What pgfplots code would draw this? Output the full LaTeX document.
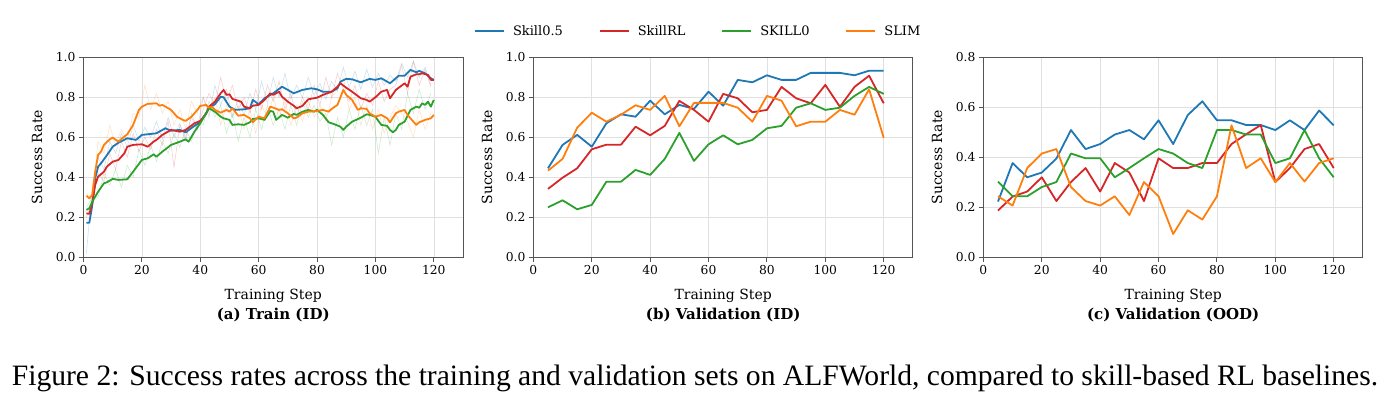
\documentclass[border=0pt]{standalone}
\usepackage{fontspec}
\setmainfont{DejaVu Serif}
\newfontfamily\capfont{Liberation Serif}
\usepackage{pgfplots}
\pgfplotsset{compat=1.18}

\definecolor{tabblue}{HTML}{1F77B4}
\definecolor{tabred}{HTML}{D62728}
\definecolor{tabgreen}{HTML}{2CA02C}
\definecolor{taborange}{HTML}{FF7F0E}
\definecolor{spine}{HTML}{555555}

\tikzset{subtitle/.style={font=\bfseries\fontsize{15}{17}\selectfont}}

\pgfplotsset{
  panel/.style={
    width=379.5pt, height=200pt, scale only axis,
    anchor=south west,
    clip mode=individual,
    xmin=0, xmax=130, ymin=0,
    xtick={0,20,...,120},
    grid=major,
    grid style={color=black!12, line width=0.6pt},
    axis line style={color=spine, line width=1pt},
    tick style={color=spine, line width=1pt},
    tick align=outside, tick pos=left,
    major tick length=4.5pt,
    /pgf/number format/assume math mode=true,
    tick label style={font=\fontsize{12.3}{14}\selectfont},
    yticklabel style={/pgf/number format/fixed,
      /pgf/number format/fixed zerofill,
      /pgf/number format/precision=1},
    label style={font=\fontsize{14}{16}\selectfont},
    xlabel={Training Step},
    ylabel={Success Rate},
    xlabel style={at={(axis description cs:0.5,-0.195)}, anchor=center},
    ylabel style={at={(axis description cs:-0.1225,0.5)}, anchor=center},
    legend image code/.code={\draw[#1] (0pt,0pt) -- (29pt,0pt);},
  },
  smooth line/.style={line width=1.8pt, line join=round},
  raw line/.style={line width=0.6pt, opacity=0.22, forget plot},
}

\begin{document}
\begin{tikzpicture}
\useasboundingbox (0pt,0pt) rectangle (1392pt,414pt);

% ---------------- (a) Train (ID) ----------------
\begin{axis}[panel, at={(83.5pt,156.7pt)}, ymax=1.0,
  ytick={0,0.2,...,1.0},
  legend columns=4,
  legend style={draw=none, fill=none, at={(axis description cs:1.62,1.13)},
    anchor=center, font=\fontsize{13}{15}\selectfont,
    /tikz/every odd column/.append style={column sep=6pt},
    /tikz/every even column/.append style={column sep=34pt}},
]
% raw (unsmoothed) curves
\addplot[raw line, tabblue] coordinates {
(1,0.02)(3,0.35)(5,0.50)(7,0.44)(9,0.58)(11,0.52)(13,0.62)(15,0.55)(17,0.66)(19,0.58)
(21,0.65)(23,0.60)(25,0.68)(27,0.59)(29,0.70)(31,0.60)(33,0.67)(35,0.58)(37,0.72)(39,0.64)
(41,0.80)(43,0.70)(45,0.86)(47,0.76)(49,0.84)(51,0.70)(53,0.79)(55,0.71)(57,0.82)(59,0.74)
(61,0.88)(63,0.77)(65,0.90)(67,0.80)(69,0.92)(71,0.79)(73,0.86)(75,0.80)(77,0.90)(79,0.81)
(81,0.87)(83,0.79)(85,0.88)(87,0.83)(89,0.95)(91,0.85)(93,0.93)(95,0.84)(97,0.94)(99,0.85)
(101,0.92)(103,0.86)(105,0.91)(107,0.88)(109,0.97)(111,0.90)(113,0.98)(115,0.90)(117,0.95)(119,0.86)};
\addplot[raw line, tabred] coordinates {
(1,0.20)(3,0.28)(5,0.42)(7,0.38)(9,0.52)(11,0.44)(13,0.58)(15,0.50)(17,0.62)(19,0.53)
(21,0.60)(23,0.54)(25,0.64)(27,0.56)(29,0.68)(31,0.45)(33,0.66)(35,0.60)(37,0.70)(39,0.64)
(41,0.74)(43,0.82)(45,0.76)(47,0.90)(49,0.78)(51,0.86)(53,0.74)(55,0.80)(57,0.72)(59,0.84)
(61,0.74)(63,0.86)(65,0.78)(67,0.88)(69,0.74)(71,0.82)(73,0.70)(75,0.80)(77,0.74)(79,0.86)
(81,0.76)(83,0.90)(85,0.80)(87,0.92)(89,0.84)(91,0.78)(93,0.86)(95,0.74)(97,0.82)(99,0.76)
(101,0.88)(103,0.78)(105,0.84)(107,0.86)(109,0.96)(111,0.82)(113,0.98)(115,0.86)(117,0.94)(119,0.85)};
\addplot[raw line, tabgreen] coordinates {
(1,0.25)(3,0.30)(5,0.30)(7,0.42)(9,0.36)(11,0.44)(13,0.35)(15,0.46)(17,0.40)(19,0.54)
(21,0.46)(23,0.56)(25,0.48)(27,0.58)(29,0.52)(31,0.62)(33,0.55)(35,0.64)(37,0.58)(39,0.68)
(41,0.66)(43,0.78)(45,0.70)(47,0.76)(49,0.62)(51,0.72)(53,0.58)(55,0.70)(57,0.60)(59,0.74)
(61,0.64)(63,0.76)(65,0.66)(67,0.74)(69,0.64)(71,0.76)(73,0.66)(75,0.78)(77,0.70)(79,0.76)
(81,0.68)(83,0.72)(85,0.56)(87,0.70)(89,0.60)(91,0.74)(93,0.64)(95,0.76)(97,0.66)(99,0.74)
(101,0.52)(103,0.70)(105,0.56)(107,0.72)(109,0.64)(111,0.82)(113,0.72)(115,0.84)(117,0.74)(119,0.82)};
\addplot[raw line, taborange] coordinates {
(1,0.32)(3,0.30)(5,0.58)(7,0.52)(9,0.66)(11,0.56)(13,0.64)(15,0.58)(17,0.72)(19,0.70)
(21,0.86)(23,0.74)(25,0.82)(27,0.72)(29,0.78)(31,0.66)(33,0.74)(35,0.64)(37,0.78)(39,0.72)
(41,0.80)(43,0.72)(45,0.80)(47,0.66)(49,0.76)(51,0.70)(53,0.76)(55,0.64)(57,0.74)(59,0.62)
(61,0.76)(63,0.70)(65,0.80)(67,0.70)(69,0.78)(71,0.66)(73,0.76)(75,0.68)(77,0.78)(79,0.70)
(81,0.76)(83,0.68)(85,0.80)(87,0.84)(89,0.90)(91,0.74)(93,0.80)(95,0.66)(97,0.76)(99,0.64)
(101,0.74)(103,0.62)(105,0.70)(107,0.76)(109,0.72)(111,0.68)(113,0.60)(115,0.74)(117,0.64)(119,0.72)};
% smoothed curves
\addplot[smooth line, tabblue] coordinates {
(1,0.173)(2,0.173)(3,0.26)(4,0.395)(5,0.453)(6,0.47)(8,0.51)(10,0.553)(12,0.573)(15,0.595)
(18,0.587)(20,0.612)(22,0.615)(25,0.62)(28,0.645)(30,0.633)(33,0.637)(35,0.625)(38,0.657)(40,0.675)
(43,0.745)(45,0.765)(47,0.803)(48,0.80)(50,0.753)(52,0.737)(55,0.74)(57,0.745)(58,0.787)(60,0.765)
(62,0.795)(65,0.82)(68,0.853)(70,0.837)(72,0.82)(75,0.837)(78,0.845)(80,0.84)(82,0.828)(85,0.828)
(87,0.845)(88,0.878)(90,0.892)(92,0.89)(95,0.875)(98,0.892)(100,0.887)(102,0.895)(105,0.87)(108,0.908)
(110,0.908)(112,0.937)(114,0.925)(115,0.932)(117,0.92)(119,0.895)(120,0.887)};
\addlegendentry{Skill0.5}
\addplot[smooth line, tabred] coordinates {
(1,0.22)(2,0.217)(3,0.27)(4,0.362)(5,0.403)(7,0.428)(8,0.453)(10,0.478)(12,0.487)(14,0.52)
(15,0.553)(17,0.562)(20,0.565)(22,0.553)(24,0.578)(25,0.587)(27,0.612)(30,0.637)(33,0.628)(35,0.637)
(38,0.67)(40,0.682)(42,0.717)(43,0.753)(45,0.778)(47,0.82)(48,0.837)(49,0.812)(50,0.815)(51,0.792)
(52,0.787)(54,0.778)(55,0.753)(57,0.745)(58,0.758)(60,0.762)(62,0.787)(64,0.82)(65,0.812)(67,0.828)
(68,0.803)(70,0.778)(72,0.758)(73,0.745)(75,0.757)(77,0.79)(80,0.798)(82,0.812)(85,0.828)(87,0.853)
(88,0.87)(90,0.848)(92,0.828)(95,0.795)(97,0.787)(98,0.778)(100,0.80)(102,0.828)(104,0.837)(105,0.795)
(107,0.837)(110,0.87)(111,0.853)(112,0.903)(114,0.915)(115,0.915)(116,0.92)(118,0.912)(119,0.887)(120,0.887)};
\addlegendentry{SkillRL}
\addplot[smooth line, tabgreen] coordinates {
(1,0.237)(2,0.245)(3,0.278)(5,0.328)(7,0.37)(8,0.375)(10,0.392)(12,0.387)(15,0.39)(17,0.428)
(20,0.487)(22,0.495)(24,0.515)(25,0.503)(27,0.528)(30,0.562)(33,0.578)(35,0.59)(36,0.578)(38,0.628)
(40,0.67)(42,0.72)(43,0.745)(44,0.737)(45,0.728)(47,0.703)(48,0.695)(50,0.687)(51,0.662)(53,0.665)
(55,0.662)(57,0.675)(58,0.692)(60,0.695)(62,0.687)(64,0.732)(65,0.728)(66,0.687)(68,0.712)(70,0.698)
(72,0.717)(73,0.712)(75,0.728)(77,0.737)(79,0.728)(80,0.737)(82,0.712)(84,0.675)(86,0.665)(88,0.653)
(89,0.637)(90,0.653)(92,0.678)(95,0.698)(97,0.715)(98,0.712)(100,0.703)(102,0.662)(104,0.657)(105,0.637)
(106,0.625)(107,0.637)(108,0.662)(110,0.678)(112,0.737)(114,0.753)(115,0.748)(116,0.77)(117,0.762)(118,0.778)
(119,0.753)(120,0.787)};
\addlegendentry{SKILL0}
\addplot[smooth line, taborange] coordinates {
(1,0.308)(2,0.295)(3,0.312)(4,0.428)(5,0.512)(6,0.528)(7,0.562)(9,0.59)(10,0.598)(12,0.578)
(13,0.592)(15,0.615)(17,0.662)(19,0.737)(20,0.753)(22,0.767)(25,0.77)(26,0.758)(27,0.762)(30,0.737)
(32,0.703)(34,0.687)(35,0.682)(37,0.703)(39,0.737)(40,0.757)(42,0.762)(43,0.748)(44,0.753)(45,0.737)
(47,0.723)(49,0.737)(50,0.728)(51,0.745)(53,0.708)(55,0.712)(57,0.695)(58,0.675)(60,0.703)(62,0.695)
(64,0.753)(65,0.748)(67,0.737)(68,0.74)(70,0.72)(72,0.695)(73,0.698)(75,0.72)(77,0.728)(80,0.732)
(82,0.737)(84,0.728)(85,0.742)(87,0.762)(89,0.837)(90,0.812)(92,0.787)(94,0.737)(95,0.745)(97,0.742)
(98,0.72)(100,0.703)(102,0.712)(104,0.695)(105,0.675)(107,0.72)(108,0.728)(110,0.737)(111,0.712)(113,0.678)
(114,0.662)(115,0.675)(117,0.687)(119,0.695)(120,0.712)};
\addlegendentry{SLIM}
\node[subtitle] at (rel axis cs:0.5,-0.287) {(a) Train (ID)};
\end{axis}

% ---------------- (b) Validation (ID) ----------------
\begin{axis}[panel, at={(533.4pt,156.7pt)}, ymax=1.0, ytick={0,0.2,...,1.0}]
\addplot[smooth line, tabblue] coordinates {
(5,0.445)(10,0.562)(15,0.612)(20,0.553)(25,0.67)(30,0.715)(35,0.703)(40,0.783)(45,0.715)(50,0.762)
(55,0.742)(60,0.828)(65,0.758)(70,0.887)(75,0.875)(80,0.91)(85,0.887)(90,0.887)(95,0.922)(100,0.922)
(105,0.922)(110,0.91)(115,0.933)(120,0.933)};
\addplot[smooth line, tabred] coordinates {
(5,0.342)(10,0.398)(15,0.445)(20,0.54)(25,0.563)(30,0.563)(35,0.653)(40,0.61)(45,0.657)(50,0.782)
(55,0.737)(60,0.678)(65,0.817)(70,0.795)(75,0.725)(80,0.737)(85,0.852)(90,0.795)(95,0.77)(100,0.862)
(105,0.752)(110,0.852)(115,0.908)(120,0.77)};
\addplot[smooth line, tabgreen] coordinates {
(5,0.25)(10,0.285)(15,0.24)(20,0.262)(25,0.378)(30,0.378)(35,0.437)(40,0.412)(45,0.492)(50,0.622)
(55,0.482)(60,0.565)(65,0.61)(70,0.565)(75,0.587)(80,0.645)(85,0.657)(90,0.748)(95,0.77)(100,0.737)
(105,0.748)(110,0.807)(115,0.852)(120,0.817)};
\addplot[smooth line, taborange] coordinates {
(5,0.433)(10,0.492)(15,0.648)(20,0.723)(25,0.678)(30,0.713)(35,0.76)(40,0.737)(45,0.807)(50,0.655)
(55,0.772)(60,0.772)(65,0.772)(70,0.748)(75,0.678)(80,0.807)(85,0.783)(90,0.655)(95,0.678)(100,0.678)
(105,0.737)(110,0.713)(115,0.84)(120,0.597)};
\node[subtitle] at (rel axis cs:0.5,-0.287) {(b) Validation (ID)};
\end{axis}

% ---------------- (c) Validation (OOD) ----------------
\begin{axis}[panel, at={(983.4pt,156.7pt)}, ymax=0.8, ytick={0,0.2,...,0.8}]
\addplot[smooth line, tabblue] coordinates {
(5,0.223)(10,0.377)(15,0.32)(20,0.339)(25,0.395)(30,0.509)(35,0.433)(40,0.453)(45,0.491)(50,0.509)
(55,0.472)(60,0.548)(65,0.453)(70,0.569)(75,0.624)(80,0.548)(85,0.548)(90,0.529)(95,0.529)(100,0.509)
(105,0.548)(110,0.509)(115,0.587)(120,0.528)};
\addplot[smooth line, tabred] coordinates {
(5,0.187)(10,0.243)(15,0.263)(20,0.32)(25,0.225)(30,0.301)(35,0.357)(40,0.263)(45,0.377)(50,0.339)
(55,0.225)(60,0.396)(65,0.357)(70,0.357)(75,0.377)(80,0.377)(85,0.453)(90,0.492)(95,0.529)(100,0.301)
(105,0.357)(110,0.433)(115,0.453)(120,0.357)};
\addplot[smooth line, tabgreen] coordinates {
(5,0.303)(10,0.244)(15,0.244)(20,0.281)(25,0.301)(30,0.415)(35,0.396)(40,0.396)(45,0.32)(50,0.357)
(55,0.396)(60,0.433)(65,0.415)(70,0.377)(75,0.357)(80,0.509)(85,0.509)(90,0.491)(95,0.491)(100,0.377)
(105,0.396)(110,0.509)(115,0.396)(120,0.32)};
\addplot[smooth line, taborange] coordinates {
(5,0.244)(10,0.207)(15,0.357)(20,0.415)(25,0.433)(30,0.281)(35,0.225)(40,0.207)(45,0.244)(50,0.169)
(55,0.301)(60,0.244)(65,0.093)(70,0.188)(75,0.151)(80,0.244)(85,0.528)(90,0.357)(95,0.396)(100,0.301)
(105,0.377)(110,0.303)(115,0.377)(120,0.396)};
\node[subtitle] at (rel axis cs:0.5,-0.287) {(c) Validation (OOD)};
\end{axis}

\node[font=\capfont\fontsize{29.6}{33}\selectfont, anchor=center] at (695pt,36pt)
  {Figure 2: Success rates across the training and validation sets on ALFWorld, compared to skill-based RL baselines.};
\end{tikzpicture}
\end{document}
